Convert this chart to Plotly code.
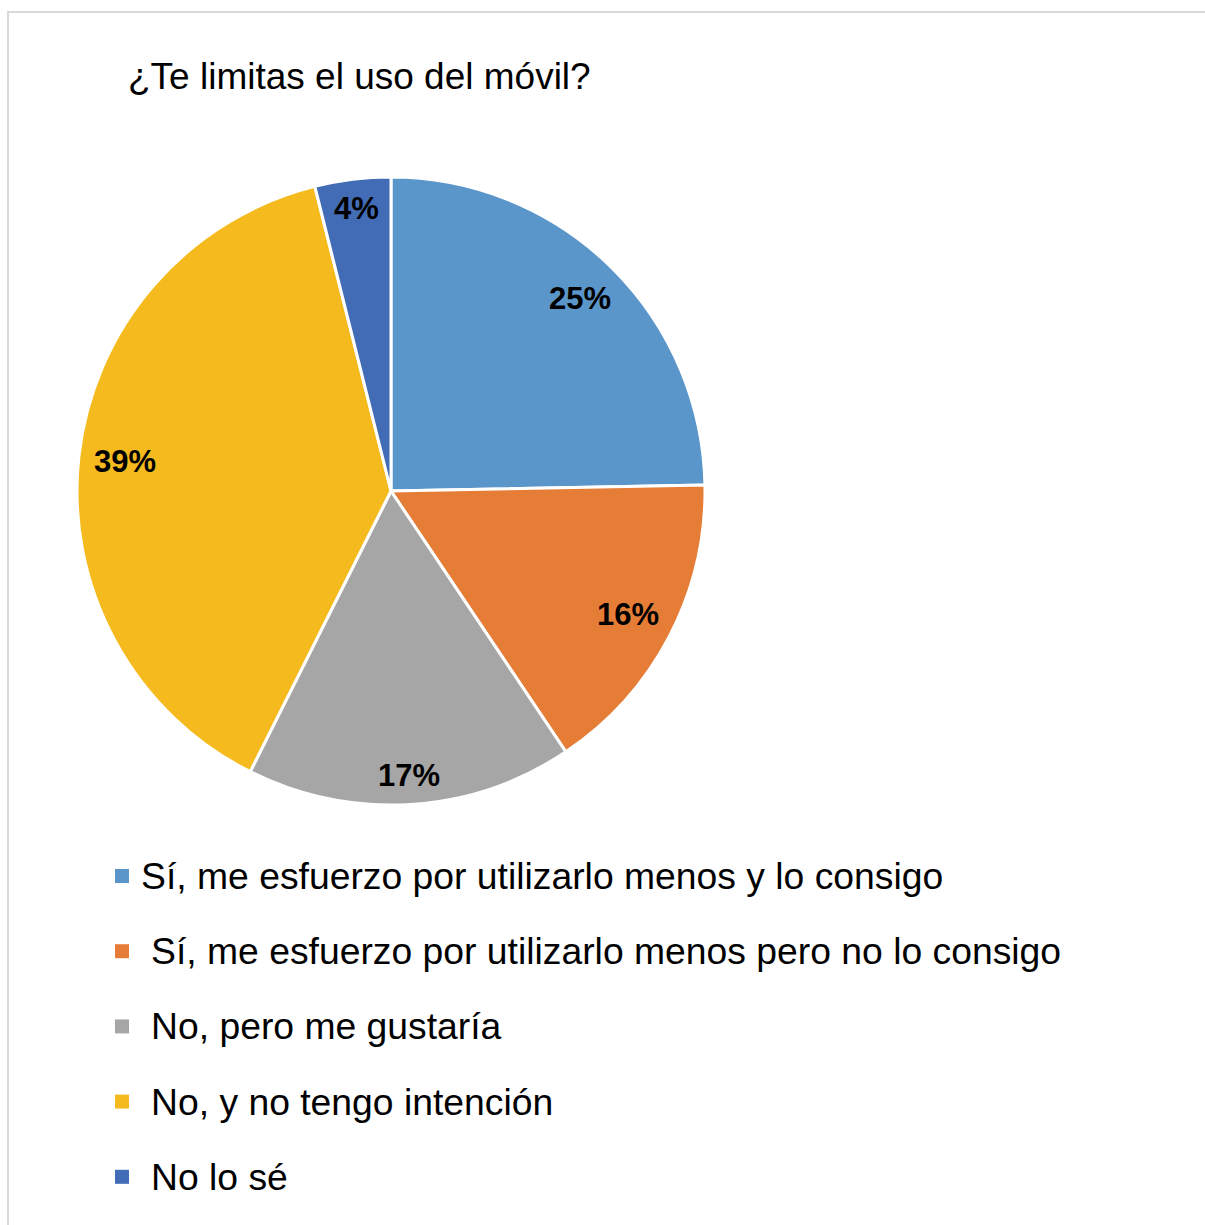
import math
import plotly.graph_objects as go

# Data
categories = [
    "Sí, me esfuerzo por utilizarlo menos y lo consigo",
    "Sí, me esfuerzo por utilizarlo menos pero no lo consigo",
    "No, pero me gustaría",
    "No, y no tengo intención",
    "No lo sé",
]
values = [24.7, 15.9, 16.8, 38.7, 3.9]
colors = ["#5B96CB", "#E67D36", "#A6A6A6", "#F5BB1E", "#426CB5"]
title_text = "¿Te limitas el uso del móvil?"

W, H = 1205, 1225
FONT = "Liberation Sans, Arial, sans-serif"
LABEL_SIZE = 31

# pie geometry (pixels)
PX0, PX1, PY0, PY1 = 77, 705, 177, 805
CX, CY = (PX0 + PX1) / 2, (PY0 + PY1) / 2
R = (PX1 - PX0) / 2

fig = go.Figure()
fig.add_trace(go.Pie(
    labels=categories,
    values=values,
    sort=False,
    direction="clockwise",
    rotation=0,
    marker=dict(colors=colors, line=dict(color="white", width=3)),
    textinfo="none",
    domain=dict(x=[PX0 / W, PX1 / W], y=[1 - PY1 / H, 1 - PY0 / H]),
    showlegend=False,
    hoverinfo="label+percent",
))

annotations = [dict(
    text=title_text, xref="paper", yref="paper",
    x=126 / W, y=1 - 77 / H, xanchor="left", yanchor="middle",
    showarrow=False, font=dict(family=FONT, size=37, color="black"),
)]

# data labels placed near the rim along each slice bisector (best-fit style)
total = sum(values)
cum = 0.0
for v in values:
    mid = (cum + v / 2) / total * 2 * math.pi
    cum += v
    pct = f"{round(v / total * 100):d}%"
    w = (len(pct) - 1) * 0.556 * LABEL_SIZE + 0.889 * LABEL_SIZE
    h = 23
    ux, uy = math.sin(mid), -math.cos(mid)
    dx = math.copysign(w / 2, ux)
    dy = math.copysign(h / 2, uy)
    ud = ux * dx + uy * dy
    target = 0.955 * R
    t = -ud + math.sqrt(ud * ud - (dx * dx + dy * dy) + target * target)
    px, py = CX + t * ux, CY + t * uy
    annotations.append(dict(
        text=f"<b>{pct}</b>", xref="paper", yref="paper",
        x=px / W, y=1 - py / H, xanchor="center", yanchor="middle",
        showarrow=False, font=dict(family=FONT, size=LABEL_SIZE, color="black"),
    ))

shapes = [dict(
    type="rect", xref="paper", yref="paper",
    x0=8 / W, x1=1.02, y0=-0.02, y1=1 - 12 / H,
    line=dict(color="#D9D9D9", width=2), fillcolor="rgba(0,0,0,0)",
)]

for i, (cat, col) in enumerate(zip(categories, colors)):
    yc = 876 + i * 75.2
    shapes.append(dict(
        type="rect", xref="paper", yref="paper",
        x0=115 / W, x1=129 / W, y0=1 - (yc + 7) / H, y1=1 - (yc - 7) / H,
        line=dict(width=0), fillcolor=col,
    ))
    tx = 139 if i == 0 else 149
    annotations.append(dict(
        text=cat, xref="paper", yref="paper",
        x=tx / W, y=1 - yc / H, xanchor="left", yanchor="middle",
        showarrow=False, font=dict(family=FONT, size=37.3, color="black"),
    ))

fig.update_layout(
    width=W, height=H,
    margin=dict(l=0, r=0, t=0, b=0),
    paper_bgcolor="white", plot_bgcolor="white",
    annotations=annotations, shapes=shapes,
    showlegend=False,
)

fig.write_html("out.html", config={"displayModeBar": False},
               post_script="document.body.style.margin='0';")
